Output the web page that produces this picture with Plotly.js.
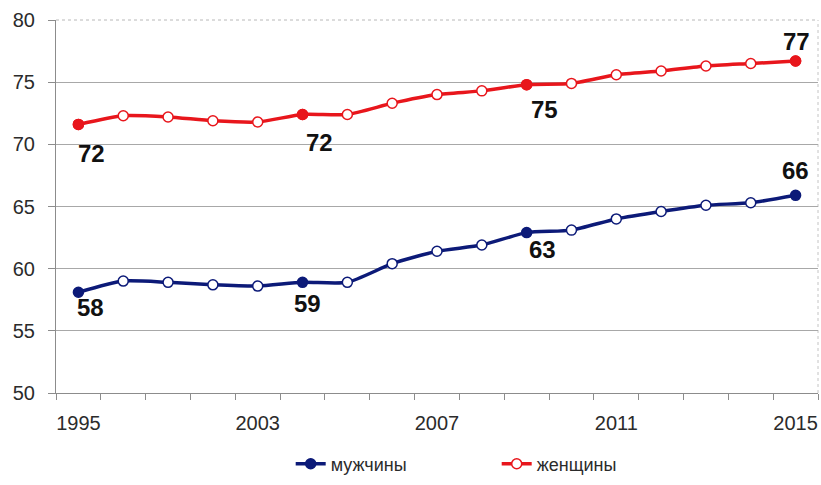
<!DOCTYPE html>
<html>
<head>
<meta charset="utf-8">
<script src="https://cdn.plot.ly/plotly-3.0.1.min.js"></script>
<style>
  html, body { margin: 0; padding: 0; background: #fff; }
  #chart { width: 821px; height: 485px; }
</style>
</head>
<body>
<div id="chart"></div>
<script>
// Ожидаемая продолжительность жизни при рождении, лет
const years = ['1995', '2000', '2001', '2002', '2003', '2004', '2005', '2006', '2007',
               '2008', '2009', '2010', '2011', '2012', '2013', '2014', '2015'];
const men   = [58.1, 59.0, 58.9, 58.7, 58.6, 58.9, 58.9, 60.4, 61.4,
               61.9, 62.9, 63.1, 64.0, 64.6, 65.1, 65.3, 65.9];
const women = [71.6, 72.3, 72.2, 71.9, 71.8, 72.4, 72.4, 73.3, 74.0,
               74.3, 74.8, 74.9, 75.6, 75.9, 76.3, 76.5, 76.7];
const labelYears = ['1995', '2004', '2009', '2015'];
const tickYears  = ['1995', '2003', '2007', '2011', '2015'];
const seriesNames = ['мужчины', 'женщины'];

const NAVY = '#0c1a78';
const RED = '#e8161c';
const TEXT = '#2b2b2b';
const AXIS = '#8c8c8c';
const FONT = 'Liberation Sans, Arial, sans-serif';

// each year sits at the centre of its own slot on the axis
const xi = years.map((_, i) => i);
const isLabelled = years.map(y => labelYears.includes(y));
const labelIdx = labelYears.map(y => years.indexOf(y));

// pixel offsets of the value labels around their points
const menShift   = [[12, -15], [5, -21], [16, -17], [0, 25]];
const womenShift = [[13, -29], [17, -28], [18, -25], [1, 20]];

function valueLabels(vals, shifts) {
  return labelIdx.map((i, k) => ({
    x: xi[i], y: vals[i], xref: 'x', yref: 'y',
    text: vals[i].toFixed(0),
    showarrow: false,
    xshift: shifts[k][0], yshift: shifts[k][1],
    font: { family: FONT, size: 24, color: '#111', weight: 'bold' }
  }));
}

const lineStyle = (c) => ({ color: c, width: 3.5, shape: 'spline', smoothing: 0.6 });

const traces = [
  {
    name: seriesNames[0], x: xi, y: men, mode: 'lines+markers',
    line: lineStyle(NAVY),
    marker: { size: 10, color: isLabelled.map(f => f ? NAVY : '#ffffff'),
              line: { color: NAVY, width: 1.5 } },
    cliponaxis: false
  },
  {
    name: seriesNames[1], x: xi, y: women, mode: 'lines+markers',
    line: lineStyle(RED),
    marker: { size: 10, color: '#ffffff', line: { color: RED, width: 1.5 } },
    cliponaxis: false
  },
  {
    // filled points for the labelled years
    name: seriesNames[1], showlegend: false,
    x: labelIdx.map(i => xi[i]), y: labelIdx.map(i => women[i]), mode: 'markers',
    marker: { size: 10, color: RED, line: { color: RED, width: 1.5 } },
    cliponaxis: false
  }
];

const layout = {
  width: 821, height: 485,
  margin: { l: 56, r: 3, t: 20, b: 90 },
  paper_bgcolor: '#ffffff', plot_bgcolor: '#ffffff',
  font: { family: FONT, size: 20, color: TEXT },
  showlegend: true,
  legend: {
    orientation: 'h', x: 0.308, xanchor: 'left', y: -0.24, yanchor: 'bottom',
    font: { family: FONT, size: 18, color: TEXT },
    entrywidth: 161, entrywidthmode: 'pixels', traceorder: 'normal'
  },
  xaxis: {
    range: [-0.5, years.length - 0.5],
    tickmode: 'array',
    tickvals: tickYears.map(y => years.indexOf(y)),
    ticktext: tickYears,
    ticks: '', ticklabelstandoff: 12,
    showgrid: false, zeroline: false,
    showline: true, linecolor: AXIS, linewidth: 1,
    minor: { ticks: 'outside', tick0: -0.5, dtick: 1, ticklen: 6,
             tickcolor: AXIS, tickwidth: 1, showgrid: false },
    tickfont: { family: FONT, size: 20, color: TEXT },
    fixedrange: true
  },
  yaxis: {
    range: [50, 80], dtick: 5, tick0: 50,
    ticks: 'outside', ticklen: 7, tickcolor: AXIS, tickwidth: 1,
    ticklabelstandoff: 9,
    showgrid: true, gridcolor: '#a8a8a8', gridwidth: 1,
    zeroline: false,
    showline: true, linecolor: AXIS, linewidth: 1,
    tickfont: { family: FONT, size: 20, color: TEXT },
    fixedrange: true
  },
  shapes: [
    { type: 'line', xref: 'paper', yref: 'paper', x0: 0, x1: 1, y0: 1, y1: 1,
      line: { color: '#ffffff', width: 2 }, layer: 'between' },
    { type: 'line', xref: 'paper', yref: 'paper', x0: 0, x1: 1, y0: 1, y1: 1,
      line: { color: '#b8b8b8', width: 1, dash: 'dot' }, layer: 'between' },
    { type: 'line', xref: 'paper', yref: 'paper', x0: 1, x1: 1, y0: 0, y1: 1,
      line: { color: '#c4c4c4', width: 1, dash: 'dot' }, layer: 'between' }
  ],
  annotations: [...valueLabels(men, menShift), ...valueLabels(women, womenShift)]
};

Plotly.newPlot('chart', traces, layout, { displayModeBar: false, staticPlot: true });
</script>
</body>
</html>
